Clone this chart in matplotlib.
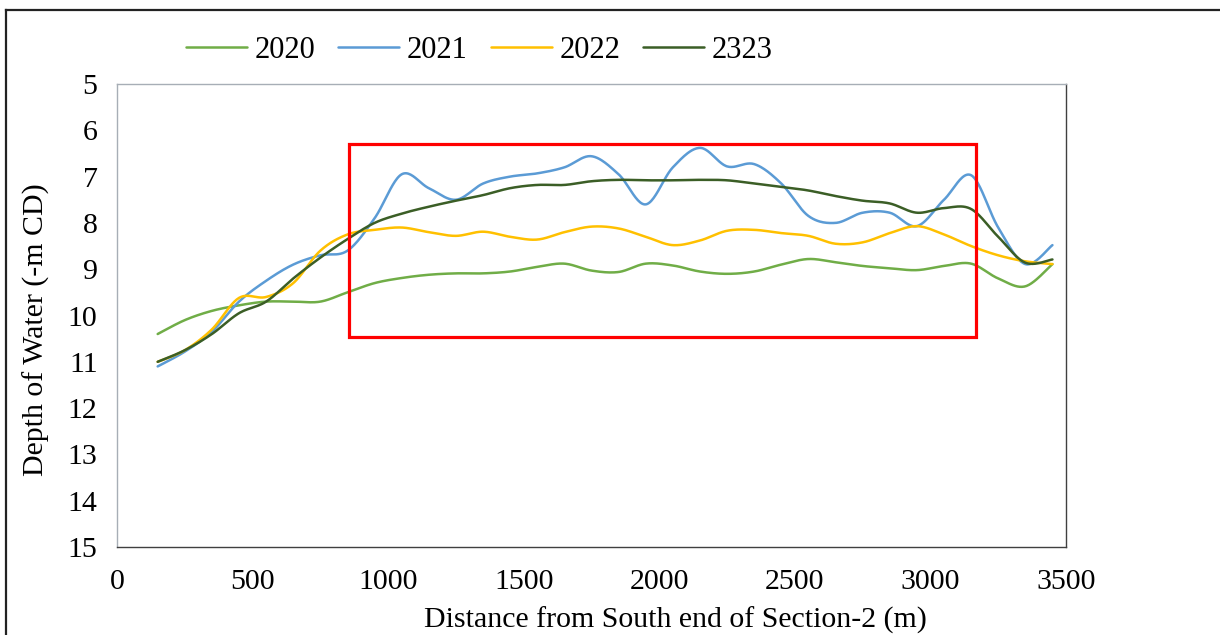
import numpy as np
import matplotlib
matplotlib.use('Agg')
import matplotlib.pyplot as plt
from matplotlib.patches import Rectangle
from matplotlib.lines import Line2D

plt.rcParams['font.family'] = ['Liberation Serif', 'DejaVu Serif']

## data (depth in -m CD)
distance = [150, 250, 350, 450, 550, 650, 750, 850, 950, 1050,
            1150, 1250, 1350, 1450, 1550, 1650, 1750, 1850, 1950, 2050,
            2150, 2250, 2350, 2450, 2550, 2650, 2750, 2850, 2950, 3050,
            3150, 3250, 3350, 3450]

depth_2020 = [10.40, 10.10, 9.90, 9.78, 9.70, 9.70, 9.70, 9.50, 9.30, 9.19,
              9.12, 9.09, 9.09, 9.05, 8.95, 8.88, 9.03, 9.06, 8.88, 8.92,
              9.05, 9.10, 9.05, 8.90, 8.78, 8.85, 8.93, 8.98, 9.02, 8.93,
              8.88, 9.20, 9.37, 8.89]

depth_2021 = [11.10, 10.78, 10.35, 9.70, 9.25, 8.90, 8.70, 8.60, 7.90, 6.95,
              7.25, 7.50, 7.15, 7.00, 6.93, 6.80, 6.56, 6.95, 7.60, 6.80,
              6.38, 6.78, 6.73, 7.15, 7.85, 8.00, 7.78, 7.78, 8.07, 7.50,
              6.97, 8.10, 8.89, 8.48]

depth_2022 = [11.00, 10.75, 10.30, 9.62, 9.60, 9.30, 8.60, 8.25, 8.15, 8.10,
              8.20, 8.28, 8.19, 8.30, 8.36, 8.20, 8.08, 8.12, 8.30, 8.48,
              8.38, 8.17, 8.15, 8.22, 8.28, 8.45, 8.42, 8.22, 8.07, 8.25,
              8.50, 8.70, 8.83, 8.89]

depth_2323 = [11.00, 10.75, 10.40, 9.95, 9.70, 9.20, 8.75, 8.35, 8.00, 7.80,
              7.65, 7.52, 7.40, 7.25, 7.18, 7.18, 7.10, 7.07, 7.08, 7.08,
              7.07, 7.08, 7.15, 7.22, 7.30, 7.42, 7.52, 7.58, 7.78, 7.68,
              7.70, 8.30, 8.86, 8.79]

series_names = ['2020', '2021', '2022', '2323']
series_colors = ['#70AD47', '#5B9BD5', '#FFC000', '#3B5E26']

# highlighted zone
box_x = [855, 3168]
box_y = [6.3, 10.46]


def smooth(x, y, n=24):
    # excel-like smoothed line (catmull-rom through the points)
    x = np.asarray(x, float)
    y = np.asarray(y, float)
    px = np.concatenate([[x[0]], x, [x[-1]]])
    py = np.concatenate([[y[0]], y, [y[-1]]])
    xs, ys = [], []
    t = np.linspace(0, 1, n, endpoint=False)
    for i in range(1, len(px) - 2):
        for p, out in ((px, xs), (py, ys)):
            p0, p1, p2, p3 = p[i - 1], p[i], p[i + 1], p[i + 2]
            out.append(0.5 * (2 * p1 + (-p0 + p2) * t
                              + (2 * p0 - 5 * p1 + 4 * p2 - p3) * t ** 2
                              + (-p0 + 3 * p1 - 3 * p2 + p3) * t ** 3))
    xs.append([x[-1]])
    ys.append([y[-1]])
    return np.concatenate(xs), np.concatenate(ys)


fig = plt.figure(figsize=(12.2, 6.35), dpi=100)
ax = fig.add_axes([117 / 1220, 1 - 547 / 635, 949 / 1220, 463 / 635])

for d, name, col in zip([depth_2020, depth_2021, depth_2022, depth_2323], series_names, series_colors):
    sx, sy = smooth(distance, d)
    ax.plot(sx, sy, color=col, lw=1.8, label=name, solid_capstyle='round')

ax.add_patch(Rectangle((box_x[0], box_y[0]), box_x[1] - box_x[0], box_y[1] - box_y[0],
                       fill=False, edgecolor='#FF0000', lw=2.3, zorder=5))

ax.set_xlim(0, 3500)
ax.set_ylim(15, 5)
ax.set_xticks(np.arange(0, 3501, 500))
ax.set_yticks(np.arange(5, 16, 1))
ax.tick_params(length=0, labelsize=21.5)
ax.tick_params(axis='y', pad=14)
ax.tick_params(axis='x', pad=16)

ax.spines['left'].set_color('#A7AEB6')
ax.spines['top'].set_color('#A7AEB6')
ax.spines['right'].set_color('#404040')
ax.spines['bottom'].set_color('#404040')
for s in ax.spines.values():
    s.set_linewidth(1.0)

ax.set_xlabel('Distance from South end of Section-2 (m)', fontsize=21.5)
ax.xaxis.set_label_coords(0.588, -0.13)
ax.set_ylabel('Depth of Water (-m CD)', fontsize=21.5)
ax.yaxis.set_label_coords(-0.071, 0.47)

fig.legend(loc='center', bbox_to_anchor=(0.393, 1 - 50 / 635), ncol=4, frameon=False,
           fontsize=22, handlelength=2.0, handletextpad=0.25, columnspacing=0.75)

# outer chart border (left and top edges visible)
fig.add_artist(Line2D([6 / 1220, 6 / 1220], [-0.05, 1 - 10 / 635], transform=fig.transFigure,
                      color='#222222', lw=1.6))
fig.add_artist(Line2D([6 / 1220, 1.05], [1 - 10 / 635, 1 - 10 / 635], transform=fig.transFigure,
                      color='#222222', lw=1.6))

fig.savefig('out.png', dpi=100)
